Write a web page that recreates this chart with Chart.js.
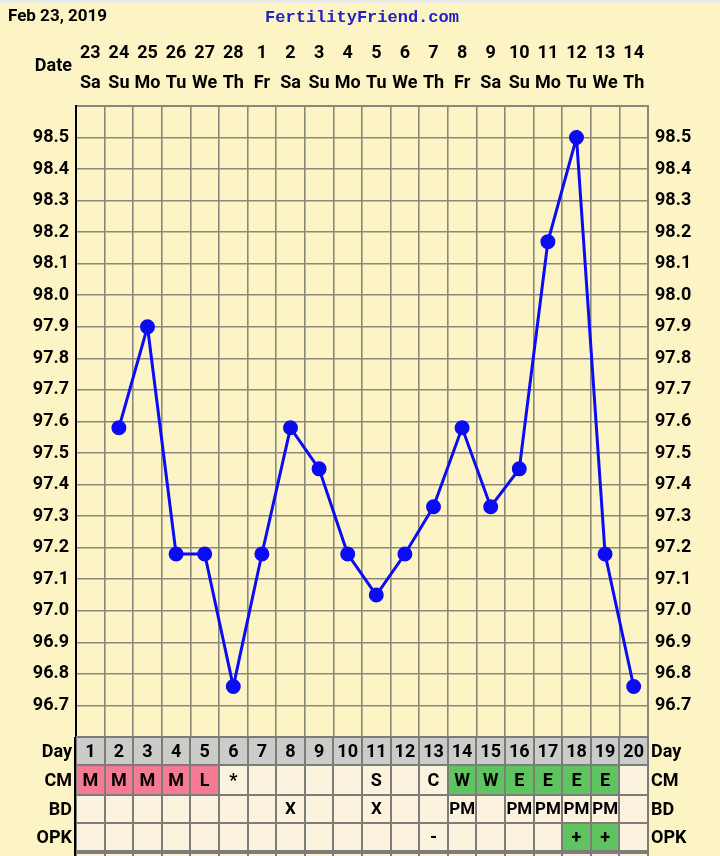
<!DOCTYPE html>
<html><head><meta charset="utf-8">
<style>html,body{margin:0;padding:0;background:#fdf4c6;overflow:hidden}#wrap{width:720px;height:856px;position:relative}</style>
<script src="https://cdn.jsdelivr.net/npm/chart.js@4/dist/chart.umd.min.js"></script>
</head><body><div id="wrap"><canvas id="c" width="720" height="856"></canvas></div>
<script>
const headerDate = 'Feb 23, 2019';
const siteName = 'FertilityFriend.com';
const dates = ['23','24','25','26','27','28','1','2','3','4','5','6','7','8','9','10','11','12','13','14'];
const weekdays = ['Sa','Su','Mo','Tu','We','Th','Fr','Sa','Su','Mo','Tu','We','Th','Fr','Sa','Su','Mo','Tu','We','Th'];
const cycleDays = ['1','2','3','4','5','6','7','8','9','10','11','12','13','14','15','16','17','18','19','20'];
const temps = [null,97.58,97.90,97.18,97.18,96.76,97.18,97.58,97.45,97.18,97.05,97.18,97.33,97.58,97.33,97.45,98.17,98.50,97.18,96.76];
const cm = ['M','M','M','M','L','*','','','','','S','','C','W','W','E','E','E','E',''];
const bd = ['','','','','','','','X','','','X','','','PM','','PM','PM','PM','PM',''];
const opk = ['','','','','','','','','','','','','-','','','','','+','+',''];
const yTickValues = [96.6,96.7,96.8,96.9,97.0,97.1,97.2,97.3,97.4,97.5,97.6,97.7,97.8,97.9,98.0,98.1,98.2,98.3,98.4,98.5,98.6];
const yTickLabels = ['','96.7','96.8','96.9','97.0','97.1','97.2','97.3','97.4','97.5','97.6','97.7','97.8','97.9','98.0','98.1','98.2','98.3','98.4','98.5',''];

const BG = '#fdf4c6';
const GRID = '#8a887a';
const FONT = 'Roboto, "Liberation Sans", sans-serif';

function cellColor(row, v) {
  if (row === 'cm') {
    if (v === 'M' || v === 'L') return '#f47b93';
    if (v === 'W' || v === 'E') return '#5fc35f';
  }
  if (row === 'opk' && v === '+') return '#5fc35f';
  return '#fcf3df';
}

const tablePlugin = {
  id: 'ffTable',
  beforeDraw(chart) {
    const ctx = chart.ctx;
    ctx.save();
    ctx.fillStyle = BG;
    ctx.fillRect(0, 0, chart.width, chart.height);
    ctx.fillStyle = '#e9e9e6';
    ctx.fillRect(0, 0, chart.width, 3);
    ctx.restore();
  },
  afterDraw(chart) {
    const ctx = chart.ctx;
    const xs = chart.scales.x;
    const ca = chart.chartArea;
    const colW = xs.getPixelForValue(1) - xs.getPixelForValue(0);
    ctx.save();
    // header
    ctx.textBaseline = 'middle';
    ctx.fillStyle = '#000';
    ctx.font = 'bold 17px ' + FONT;
    ctx.textAlign = 'left';
    ctx.fillText(headerDate, 8, 17);
    ctx.fillStyle = '#2020c8';
    ctx.font = 'bold 17px "Liberation Mono", "DejaVu Sans Mono", monospace';
    ctx.textAlign = 'center';
    ctx.fillText(siteName, 362, 18);
    ctx.fillStyle = '#000';
    ctx.font = 'bold 18px ' + FONT;
    ctx.textAlign = 'right';
    ctx.fillText('Date', 72, 66);

    // table rows
    const rows = [
      {key: 'day', label: 'Day', vals: cycleDays, h: 28},
      {key: 'cm', label: 'CM', vals: cm, h: 30},
      {key: 'bd', label: 'BD', vals: bd, h: 28},
      {key: 'opk', label: 'OPK', vals: opk, h: 28},
      {key: 'more', label: '', vals: cycleDays.map(() => ''), h: 30}
    ];
    let y = ca.bottom;
    const tops = [];
    rows.forEach((r, ri) => {
      const top = y + (ri === 4 ? 2 : 0);
      tops.push(top);
      for (let i = 0; i < r.vals.length; i++) {
        const cx = xs.getPixelForValue(i);
        ctx.fillStyle = r.key === 'day' ? '#cbcbca' : cellColor(r.key, r.vals[i]);
        ctx.fillRect(cx - colW / 2, top, colW, r.h);
      }
      y = top + r.h;
    });
    // grid lines of table
    ctx.strokeStyle = '#7c7c78';
    ctx.lineWidth = 2;
    for (let i = 0; i <= cycleDays.length; i++) {
      const x = Math.round(xs.getPixelForValue(i) - colW / 2);
      ctx.beginPath();
      ctx.moveTo(x, ca.bottom);
      ctx.lineTo(x, chart.height);
      ctx.stroke();
    }
    rows.forEach((r, ri) => {
      ctx.beginPath();
      ctx.moveTo(ca.left, tops[ri]);
      ctx.lineTo(ca.right, tops[ri]);
      ctx.stroke();
    });
    ctx.beginPath();
    ctx.moveTo(ca.left, tops[4] - 2);
    ctx.lineTo(ca.right, tops[4] - 2);
    ctx.stroke();
    ctx.strokeStyle = '#000';
    ctx.beginPath();
    ctx.moveTo(ca.left - 1, ca.bottom);
    ctx.lineTo(ca.left - 1, chart.height);
    ctx.stroke();

    // texts
    ctx.fillStyle = '#000';
    rows.forEach((r, ri) => {
      const cy = tops[ri] + r.h / 2 + 1;
      ctx.font = 'bold 18px ' + FONT;
      ctx.textAlign = 'right';
      ctx.fillText(r.label, 72, cy);
      ctx.textAlign = 'left';
      ctx.fillText(r.label, 651, cy);
      ctx.textAlign = 'center';
      ctx.font = (r.key === 'bd' ? 'bold 17px ' : 'bold 18px ') + FONT;
      for (let i = 0; i < r.vals.length; i++) {
        if (r.vals[i]) ctx.fillText(r.vals[i], xs.getPixelForValue(i), cy);
      }
    });
    ctx.restore();
  }
};

const yTickCb = (v) => {
  const i = yTickValues.findIndex(t => Math.abs(t - v) < 1e-6);
  return i >= 0 ? yTickLabels[i] : '';
};
const setYTicks = (scale) => { scale.ticks = yTickValues.map(v => ({value: v})); };

new Chart(document.getElementById('c'), {
  type: 'line',
  data: {
    labels: cycleDays,
    datasets: [{
      data: temps,
      borderColor: '#0b0bf5',
      backgroundColor: '#0b0bf5',
      pointBackgroundColor: '#0b0bf5',
      pointBorderColor: '#0b0bf5',
      borderWidth: 3,
      pointRadius: 6,
      tension: 0,
      spanGaps: false
    }]
  },
  options: {
    responsive: false,
    animation: false,
    events: [],
    layout: {padding: {top: 0, bottom: 119, left: 0, right: 0}},
    plugins: {legend: {display: false}, tooltip: {enabled: false}},
    scales: {
      x: {
        type: 'category',
        position: 'top',
        offset: true,
        afterFit: (s) => { s.height = 106; },
        grid: {offset: true, color: GRID, lineWidth: 1.6, drawTicks: false},
        border: {color: GRID, width: 2},
        ticks: {
          autoSkip: false, maxRotation: 0, padding: 7, color: '#000',
          font: {family: FONT, size: 18, weight: 'bold', lineHeight: 1.6667},
          callback: (v, i) => [dates[i], weekdays[i]]
        }
      },
      y: {
        position: 'left',
        min: 96.6, max: 98.6,
        afterBuildTicks: setYTicks,
        afterFit: (s) => { s.width = 76; },
        grid: {color: GRID, lineWidth: 1.6, drawTicks: false},
        border: {color: '#000', width: 2},
        ticks: {padding: 7, color: '#000', font: {family: FONT, size: 18, weight: 'bold'}, callback: yTickCb}
      },
      y2: {
        position: 'right',
        min: 96.6, max: 98.6,
        afterBuildTicks: setYTicks,
        afterFit: (s) => { s.width = 72; },
        grid: {display: false, drawTicks: false},
        border: {color: GRID, width: 2},
        ticks: {padding: 7, color: '#000', font: {family: FONT, size: 18, weight: 'bold'}, callback: yTickCb}
      }
    }
  },
  plugins: [tablePlugin]
});
</script>
</body></html>
